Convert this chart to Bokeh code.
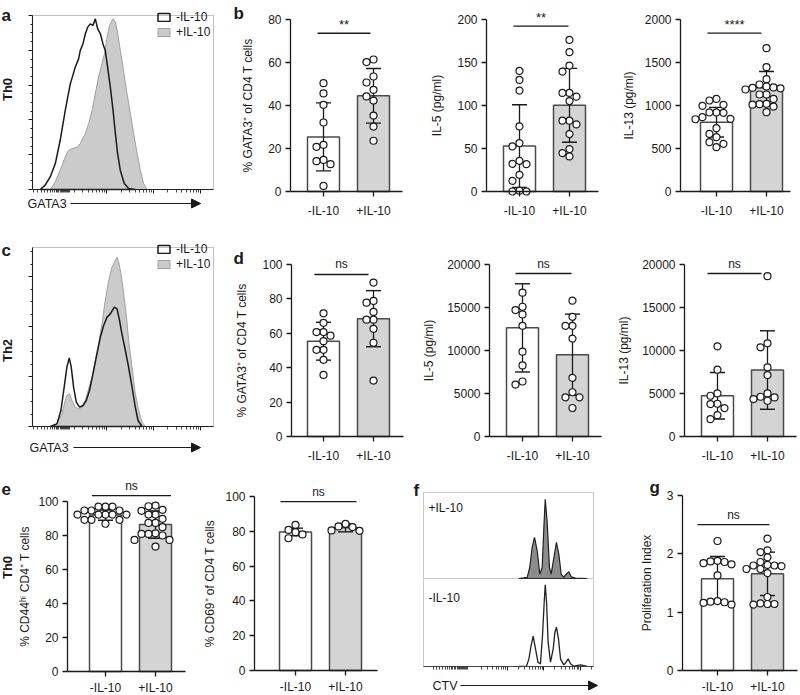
import math
from bokeh.plotting import figure
from bokeh.models import (Range1d, FixedTicker, LinearAxis, Label, Arrow, NormalHead,
                          Legend, LegendItem, BoxAnnotation, CustomJSTickFormatter)
from bokeh.layouts import row, column
from bokeh.embed import file_html
from bokeh.resources import INLINE

FONT = "Liberation Sans"
INK = "#1a1a1a"
BAR_EDGE = "#4a4a4a"
BAR_GRAY = "#d4d4d4"
HIST_GRAY = "#cbcbcb"
HIST_EDGE = "#a0a0a0"

# ---------------- data ----------------
groups = ["-IL-10", "+IL-10"]

# (a) Th0 GATA3 histograms: channel (0-1000), % of max
a_plus_x = [98, 126, 153, 181, 199, 218, 249, 264, 292, 310, 329, 347, 365, 384, 402,
            412, 426, 445, 458, 470, 485, 500, 519, 541, 559, 578, 596, 614, 633]
a_plus_y = [0, 4.4, 11.1, 18.7, 22.5, 23.5, 24.4, 26.4, 32.1, 37.9, 45.5, 55.1, 64.6, 72.3, 79.9,
            87.6, 94.3, 98.1, 96.2, 90.4, 79.9, 70.3, 57.0, 43.6, 32.1, 20.7, 11.1, 3.4, 0]
a_minus_x = [43, 70, 98, 126, 153, 181, 209, 223, 236, 255, 264, 279, 292, 305, 319,
             334, 347, 360, 375, 389, 402, 415, 430, 445, 458, 470, 485, 507, 531, 568]
a_minus_y = [0, 2.5, 7.2, 14.9, 28.3, 45.5, 60.8, 65.6, 70.3, 75.2, 79.9, 83.8, 89.5, 93.3, 95.2,
             94.3, 98.1, 92.4, 89.5, 83.8, 79.9, 70.3, 58.9, 45.5, 32.1, 20.7, 11.1, 3.4, 0.6, 0]

# (c) Th2 GATA3 histograms: channel, counts
c_plus_x = [98, 135, 163, 181, 190, 205, 218, 236, 255, 273, 292, 310, 329, 347, 365,
            384, 402, 421, 439, 467, 476, 489, 504, 519, 531, 550, 568, 587, 605, 624]
c_plus_y = [0, 5.3, 25.3, 52, 62, 65.3, 52, 38.7, 35.3, 38.7, 52, 75.3, 98.7, 132, 165.3,
            205.3, 252, 292, 318.7, 338.7, 328.7, 305.3, 265.3, 218.7, 172, 118.7, 65.3, 32, 8.7, 0]
c_minus_x = [98, 135, 157, 175, 190, 203, 214, 227, 242, 260, 279, 297, 315, 334, 356,
             375, 393, 412, 430, 452, 467, 481, 494, 513, 531, 550, 568, 583, 605]
c_minus_y = [0, 5.3, 32, 78.7, 118.7, 137.3, 118.7, 78.7, 48.7, 38.7, 42, 52, 72, 105.3, 145.3,
             178.7, 202, 218.7, 225.3, 238.7, 235.3, 212, 185.3, 152, 118.7, 78.7, 38.7, 12, 0]

# (f) CTV histograms: channel, % of panel height
f_plus_x = [561, 610, 625, 639, 653, 669, 684, 698, 708, 716, 727, 741, 751, 767, 782,
            796, 810, 825, 839, 855, 869, 894, 963]
f_plus_y = [0, 1.2, 12.8, 36, 47.7, 32.2, 5, 12.8, 59.3, 92.2, 67.1, 12.8, 5, 24.4, 41.9,
            28.3, 5, 1.2, 5, 7.8, 1.9, 0.4, 0]
f_minus_x = [561, 606, 620, 633, 645, 659, 673, 688, 700, 710, 716, 724, 733, 747, 763,
             773, 782, 794, 806, 825, 839, 851, 865, 884, 924, 963]
f_minus_y = [0, 0.4, 8.9, 24.4, 35.3, 20.5, 5, 3.1, 36, 74.8, 95, 74.8, 28.3, 5, 20.5,
             39.9, 45.7, 32.2, 8.9, 1.9, 5, 8.9, 3.1, 0.4, 1.9, 0]

# (b) Th0
b1_minus = [50.4, 45.6, 40.3, 32.1, 21.7, 20.8, 14.7, 14.1, 12.7, 2.6]
b1_plus = [61.4, 60.2, 53.5, 50.7, 47.3, 44.2, 42.3, 35.3, 30.2, 23.6]
b1_mean = [25.4, 44.5]
b1_sd = [15.8, 12.7]
b2_minus = [140.2, 129.7, 117.3, 75.7, 56.3, 52.4, 35.7, 31.8, 32.2, 19.4, 12.4, 1.0, 0.0, 0.0]
b2_plus = [176.3, 162.0, 146.4, 139.4, 114.6, 114.6, 110.3, 105.2, 82.3, 82.3, 78.0, 66.8, 49.3, 44.7, 40.8]
b2_mean = [52.8, 100.2]
b2_sd = [48.0, 43.0]
b3_minus = [1077, 1058, 1008, 996, 919, 919, 915, 864, 845, 840, 736, 670, 632, 574, 554, 515]
b3_plus = [1667, 1446, 1306, 1244, 1221, 1210, 1205, 1200, 1186, 1128, 1128, 1077, 1019, 1015, 1010, 988, 922]
b3_mean = [806, 1205]
b3_sd = [172, 190]

# (d) Th2
d1_minus = [71.6, 66.1, 60.7, 60.7, 58.6, 55.4, 50.4, 50.4, 44.6, 35.8]
d1_plus = [89.5, 78.8, 77.8, 72.4, 67.9, 67.9, 62.6, 54.5, 32.5]
d1_mean = [55.4, 68.5]
d1_sd = [11.0, 16.3]
d2_minus = [16725, 15088, 14698, 14191, 12865, 9864, 8265, 6394, 6043]
d2_plus = [15789, 13918, 12865, 12865, 11384, 6823, 5146, 4561, 4561, 3314]
d2_mean = [12632, 9513]
d2_sd = [5127, 4718]
d3_minus = [10485, 7767, 5010, 4738, 3806, 3767, 3301, 2485, 2019]
d3_plus = [18641, 10835, 10369, 8039, 7146, 5010, 4621, 4544, 4350, 4155]
d3_mean = [4738, 7728]
d3_sd = [2700, 4564]

# (e) Th0 activation
e1_minus = [97.0, 97.0, 97.0, 94.7, 94.7, 94.7, 92.3, 92.3, 92.3, 92.3, 92.3, 89.2, 89.2, 89.2, 86.9]
e1_plus = [97.6, 97.2, 95.1, 94.5, 92.3, 92.3, 89.8, 87.4, 87.4, 84.9, 81.3, 80.9, 80.9, 80.0,
           77.4, 77.4, 73.5]
e1_mean = [92.0, 86.4]
e1_sd = [3.0, 8.0]
e2_minus = [83.7, 80.8, 79.5, 78.2, 76.0]
e2_plus = [84.3, 82.8, 82.4, 80.5, 80.3]
e2_mean = [79.6, 82.0]
e2_sd = [2.2, 2.3]

# (g) proliferation index
g_minus = [2.22, 1.88, 1.87, 1.86, 1.84, 1.82, 1.63, 1.19, 1.18, 1.17, 1.16, 1.13]
g_plus = [2.26, 2.06, 2.03, 1.94, 1.86, 1.81, 1.80, 1.80, 1.79, 1.74, 1.74, 1.67, 1.26, 1.15, 1.14, 1.14, 1.13]
g_mean = [1.571, 1.657]
g_sd = [0.383, 0.372]

# y tick labels
b1_ticks = [0, 20, 40, 60, 80]
b2_ticks = [0, 50, 100, 150, 200]
b3_ticks = [0, 500, 1000, 1500, 2000]
d1_ticks = [0, 20, 40, 60, 80, 100]
d2_ticks = [0, 5000, 10000, 15000, 20000]
d3_ticks = [0, 5000, 10000, 15000, 20000]
e_ticks = [0, 20, 40, 60, 80, 100]
g_ticks = [0, 1, 2, 3]

# significance: label, y value of bracket
sig_b = [("**", 73.6), ("**", 192.2), ("****", 1841)]
sig_d = [("ns", 94.2), ("ns", 18953), ("ns", 18953)]
sig_e = [("ns", 103.5), ("ns", 97.1)]
sig_g = ("ns", 2.5)

# ---------------- helpers ----------------
PX_PER_X = 50.0


class Map:
    """data <-> canvas-pixel mapping of a figure whose frame fills its canvas"""
    def __init__(self, cx0, x0, sx, cy0, y0, sy):
        self.cx0, self.x0, self.sx = cx0, x0, sx
        self.cy0, self.y0, self.sy = cy0, y0, sy

    def dx(self, cx):
        return self.x0 + (cx - self.cx0) * self.sx

    def dy(self, cy):
        return self.y0 + (self.cy0 - cy) * self.sy


def canvas_fig(W, H, m):
    p = figure(width=W, height=H, output_backend="svg", toolbar_location=None,
               x_range=Range1d(m.dx(0), m.dx(W)), y_range=Range1d(m.dy(H), m.dy(0)),
               x_axis_type=None, y_axis_type=None,
               min_border_left=0, min_border_right=0, min_border_top=0, min_border_bottom=0)
    p.outline_line_color = None
    p.background_fill_color = "white"
    p.border_fill_color = "white"
    return p


def style_axis(ax):
    ax.axis_line_color = INK
    ax.axis_line_width = 1.3
    ax.major_tick_line_color = INK
    ax.major_tick_line_width = 1.3
    ax.major_tick_in = 0
    ax.major_tick_out = 5
    ax.minor_tick_line_color = INK
    ax.minor_tick_in = 0
    ax.minor_tick_out = 2
    ax.major_label_text_font = FONT
    ax.major_label_text_font_size = "12px"
    ax.major_label_text_color = INK
    ax.axis_label_text_font = FONT
    ax.axis_label_text_font_size = "12px"
    ax.axis_label_text_font_style = "normal"
    ax.axis_label_text_color = INK


def text(p, m, cx, cy, s, size="12px", bold=False, align="left", baseline="middle", angle=0.0):
    p.add_layout(Label(x=m.dx(cx), y=m.dy(cy), text=s, text_font=FONT, text_font_size=size,
                       text_font_style="bold" if bold else "normal", text_align=align,
                       text_baseline=baseline, angle=angle, text_color=INK))


def letter(p, m, cx, cy, s):
    text(p, m, cx, cy, s, size="17px", bold=True, baseline="alphabetic")


def axis_arrow(p, m, label, cx_text, cx0, cx1, cy):
    text(p, m, cx_text, cy, label, size="12.5px")
    p.add_layout(Arrow(x_start=m.dx(cx0), y_start=m.dy(cy), x_end=m.dx(cx1), y_end=m.dy(cy),
                       line_color=INK, line_width=1.1,
                       end=NormalHead(size=9, fill_color=INK, line_color=INK, line_width=1)))


def swarm(values, px_per_unit, step=7.0, mind=7.0):
    order = sorted(range(len(values)), key=lambda i: -values[i])
    placed = []
    offs = [0.0] * len(values)
    cands = [0]
    for j in range(1, 10):
        cands += [-j, j]
    for i in order:
        y = values[i] * px_per_unit
        xx = 0.0
        for c in cands:
            xx = c * step
            if all((xx - a) ** 2 + (y - b) ** 2 >= mind ** 2 for a, b in placed):
                break
        placed.append((xx, y))
        offs[i] = xx / PX_PER_X
    return offs


def bar_panel(lay, ymax, yticks, ylabel, minus, plus, means, sds, sig, sig_y):
    W, H, ax, tick, FW = lay["W"], lay["H"], lay["ax"], lay["tick"], lay["FW"]
    y0px, ytop = lay["y0"], lay["ytop"]
    ppu = (y0px - ytop) / ymax
    m = Map(ax + tick, 0.0, 1 / PX_PER_X, y0px, 0.0, 1 / ppu)
    p = canvas_fig(W, H, m)
    x_left, x_right = m.dx(ax), m.dx(ax + FW)

    yax = LinearAxis(ticker=FixedTicker(ticks=yticks, minor_ticks=[]), bounds=(0, ymax),
                     axis_label=ylabel, fixed_location=x_left)
    style_axis(yax)
    yax.major_label_standoff = 4
    yax.axis_label_standoff = lay["lstand"]
    p.add_layout(yax, "left")
    xax = LinearAxis(ticker=FixedTicker(ticks=[0, 1], minor_ticks=[]), bounds=(x_left, x_right),
                     fixed_location=0, major_label_overrides={0: groups[0], 1: groups[1]})
    style_axis(xax)
    xax.major_label_standoff = lay.get("xstand", 7)
    p.add_layout(xax, "below")

    p.vbar(x=[0, 1], top=means, bottom=0, width=0.64, fill_color=["white", BAR_GRAY],
           line_color=BAR_EDGE, line_width=1.5)
    lo = [mm - s for mm, s in zip(means, sds)]
    hi = [mm + s for mm, s in zip(means, sds)]
    p.segment(x0=[0, 1], y0=lo, x1=[0, 1], y1=hi, line_color=INK, line_width=1.3)
    p.scatter(x=[0, 1, 0, 1], y=lo + hi, marker="dash", size=15, line_color=INK, line_width=1.4)
    for gi, vals in enumerate([minus, plus]):
        offs = swarm(vals, ppu)
        p.scatter(x=[gi + o for o in offs], y=vals, marker="circle", size=7,
                  fill_color="white", line_color=INK, line_width=1.2)
    sx = lay["sx"]
    p.line(x=list(sx), y=[sig_y, sig_y], line_color=INK, line_width=1.3)
    is_star = sig.startswith("*")
    p.add_layout(Label(x=(sx[0] + sx[1]) / 2, y=sig_y + (1 if is_star else 3) / ppu, text=sig,
                       text_align="center", text_baseline="bottom", text_font=FONT,
                       text_font_size="13px" if is_star else "12px", text_color=INK))
    return p, m


def log_minors(starts, span, lim):
    out = []
    for s in starts:
        for k in range(2, 10):
            t = s + math.log10(k) * span
            if t < lim:
                out.append(t)
    return out


def blank_labels(ax):
    ax.formatter = CustomJSTickFormatter(code="return '';")


def hist_axes(p, ytop, ymaj, ymin, xmaj, xmin):
    ya = LinearAxis(ticker=FixedTicker(ticks=ymaj, minor_ticks=ymin), bounds=(0, ytop),
                    fixed_location=0)
    style_axis(ya)
    ya.major_tick_out = 4
    ya.axis_line_width = 1.1
    ya.major_tick_line_width = 1.1
    blank_labels(ya)
    p.add_layout(ya, "left")
    xa = LinearAxis(ticker=FixedTicker(ticks=xmaj, minor_ticks=xmin), bounds=(0, 1000),
                    fixed_location=0)
    style_axis(xa)
    xa.major_tick_out = 4
    xa.minor_tick_out = 3
    xa.major_tick_line_width = 1
    xa.minor_tick_line_width = 0.8
    xa.axis_line_width = 1.1
    blank_labels(xa)
    p.add_layout(xa, "below")
    p.add_layout(BoxAnnotation(left=0, right=1000, bottom=0, top=ytop, fill_color=None,
                               line_color="#333333", line_width=1))


def hist_legend(p, r_minus, r_plus, loc):
    leg = Legend(items=[LegendItem(label=groups[0], renderers=[r_minus]),
                        LegendItem(label=groups[1], renderers=[r_plus])],
                 location=loc, margin=0, padding=1, spacing=1,
                 glyph_width=15, glyph_height=10, label_standoff=5, label_height=10,
                 label_text_font=FONT, label_text_font_size="12px", label_text_color=INK,
                 label_text_line_height=0.9,
                 border_line_color=None, background_fill_alpha=0)
    p.add_layout(leg)


# gating-style tick marks for the flow axes
gx_major = [411, 670, 927]
gx_minor = log_minors([152, 411, 670, 927], 259, 1000) + list(range(146, 210, 6)) + \
    [8, 30, 50, 68, 84, 98, 110, 120, 130, 138]
fx_major = [492, 708, 924]
fx_minor = log_minors([276, 492, 708, 924], 216, 1000) + list(range(205, 262, 6)) + \
    [59, 78, 96, 112, 127, 140, 152, 163, 173, 182, 190, 198]

# ---------------- row 1 (height 224) ----------------
ma = Map(32, 0.0, 1000 / 181, 189, 0.0, 100 / 174)
fa = canvas_fig(230, 224, ma)
ra_p = fa.patch(a_plus_x, a_plus_y, fill_color=HIST_GRAY, line_color=HIST_EDGE, line_width=1)
ra_m = fa.patch(a_minus_x, a_minus_y, fill_alpha=0, line_color=INK, line_width=1.5)
hist_axes(fa, 100, list(range(0, 101, 20)), [v for v in range(0, 101, 5) if v % 20],
          gx_major, gx_minor)
hist_legend(fa, ra_m, ra_p, (156, 185))
letter(fa, ma, 1, 15, "a")
text(fa, ma, 7, 89, "Th0", size="13px", bold=True, align="center", angle=math.pi / 2)
axis_arrow(fa, ma, "GATA3", 27, 70, 200, 203)

L_b1 = dict(W=195, H=224, ax=60, tick=33, FW=112, y0=191, ytop=19, lstand=10, sx=(-0.12, 0.94))
L_b2 = dict(W=195, H=224, ax=61, tick=33, FW=112, y0=191, ytop=19, lstand=10, sx=(-0.12, 0.98))
L_b3 = dict(W=180, H=224, ax=60, tick=36, FW=110, y0=191, ytop=19, lstand=6, sx=(-0.18, 0.9))
fb1, mb1 = bar_panel(L_b1, 80, b1_ticks, "% GATA3\u207a of CD4 T cells", b1_minus, b1_plus,
                     b1_mean, b1_sd, *sig_b[0])
letter(fb1, mb1, 3, 13, "b")
fb2, _ = bar_panel(L_b2, 200, b2_ticks, "IL-5 (pg/ml)", b2_minus, b2_plus, b2_mean, b2_sd, *sig_b[1])
fb3, _ = bar_panel(L_b3, 2000, b3_ticks, "IL-13 (pg/ml)", b3_minus, b3_plus, b3_mean, b3_sd, *sig_b[2])

# ---------------- row 2 (height 239) ----------------
mc = Map(32, 0.0, 1000 / 181, 202, 0.0, 2.0)
fc = canvas_fig(230, 239, mc)
rc_p = fc.patch(c_plus_x, c_plus_y, fill_color=HIST_GRAY, line_color=HIST_EDGE, line_width=1)
rc_m = fc.patch(c_minus_x, c_minus_y, fill_alpha=0, line_color=INK, line_width=1.5)
hist_axes(fc, 358, [0, 100, 200, 300], [v for v in range(0, 358, 25) if v % 100],
          gx_major, gx_minor)
hist_legend(fc, rc_m, rc_p, (156, 192))
letter(fc, mc, 1, 26, "c")
text(fc, mc, 7, 126, "Th2", size="13px", bold=True, align="center", angle=math.pi / 2)
axis_arrow(fc, mc, "GATA3", 29, 73, 200, 223)

L_d1 = dict(W=188, H=239, ax=61, tick=32, FW=112, y0=212, ytop=40, lstand=10, sx=(-0.18, 0.9))
L_d2 = dict(W=194, H=239, ax=71, tick=33, FW=112, y0=212, ytop=40, lstand=8, sx=(-0.14, 0.98))
L_d3 = dict(W=188, H=239, ax=72, tick=33, FW=112, y0=212, ytop=40, lstand=8, sx=(-0.2, 0.88))
fd1, md1 = bar_panel(L_d1, 100, d1_ticks, "% GATA3\u207a of CD4 T cells", d1_minus, d1_plus,
                     d1_mean, d1_sd, *sig_d[0])
letter(fd1, md1, 3, 34, "d")
fd2, _ = bar_panel(L_d2, 20000, d2_ticks, "IL-5 (pg/ml)", d2_minus, d2_plus, d2_mean, d2_sd, *sig_d[1])
fd3, _ = bar_panel(L_d3, 20000, d3_ticks, "IL-13 (pg/ml)", d3_minus, d3_plus, d3_mean, d3_sd, *sig_d[2])

# ---------------- row 3 (height 232) ----------------
L_e1 = dict(W=200, H=232, ax=67, tick=38, FW=118, y0=208, ytop=38, lstand=3, xstand=4,
            sx=(-0.27, 1.31))
L_e2 = dict(W=198, H=232, ax=54, tick=41, FW=123, y0=207, ytop=33, lstand=5, xstand=4,
            sx=(-0.3, 1.22))
L_g = dict(W=180, H=232, ax=62, tick=35, FW=115, y0=207, ytop=32, lstand=10, xstand=4,
           sx=(-0.4, 1.04))
fe1, me1 = bar_panel(L_e1, 100, e_ticks, "% CD44\u02b0\u2071 CD4\u207a T cells", e1_minus, e1_plus,
                     e1_mean, e1_sd, *sig_e[0])
letter(fe1, me1, 1, 25, "e")
text(fe1, me1, 7, 104, "Th0", size="13px", bold=True, align="center", angle=math.pi / 2)
fe2, _ = bar_panel(L_e2, 100, e_ticks, "% CD69\u207a of CD4 T cells", e2_minus, e2_plus,
                   e2_mean, e2_sd, *sig_e[1])

# (f) two stacked histograms
mft = Map(25, 0.0, 1000 / 170, 115, 0.0, 100 / 86)
ft = canvas_fig(222, 116, mft)
ft.patch(f_plus_x, f_plus_y, fill_color="#8c8c8c", line_color="#222222", line_width=1.2)
ft.add_layout(BoxAnnotation(left=0, right=1000, bottom=0, top=mft.dy(29), fill_color=None,
                            line_color="#444444", line_width=1))
text(ft, mft, 30, 44, "+IL-10")
letter(ft, mft, 15, 27, "f")

mfb = Map(25, 0.0, 1000 / 170, 87, 0.0, 100 / 86)
fbt = canvas_fig(222, 116, mfb)
fbt.line(f_minus_x, f_minus_y, line_color="#222222", line_width=1.3)
fbt.add_layout(BoxAnnotation(left=0, right=1000, bottom=0, top=mfb.dy(-3), fill_color=None,
                             line_color="#444444", line_width=1))
fxa = LinearAxis(ticker=FixedTicker(ticks=fx_major, minor_ticks=fx_minor), bounds=(0, 1000),
                 fixed_location=0)
style_axis(fxa)
fxa.axis_line_color = "#444444"
fxa.axis_line_width = 1
fxa.major_tick_out = 4
fxa.minor_tick_out = 3
fxa.major_tick_line_width = 1
fxa.minor_tick_line_width = 0.8
blank_labels(fxa)
fbt.add_layout(fxa, "below")
text(fbt, mfb, 30, 18, "-IL-10")
axis_arrow(fbt, mfb, "CTV", 34, 62, 199, 106)

fg, mg = bar_panel(L_g, 3, g_ticks, "Proliferation Index", g_minus, g_plus, g_mean, g_sd, *sig_g)
letter(fg, mg, 29, 24, "g")

layout = column(
    row(fa, fb1, fb2, fb3),
    row(fc, fd1, fd2, fd3),
    row(fe1, fe2, column(ft, fbt), fg),
)

open("out.html", "w").write(file_html(layout, INLINE))
